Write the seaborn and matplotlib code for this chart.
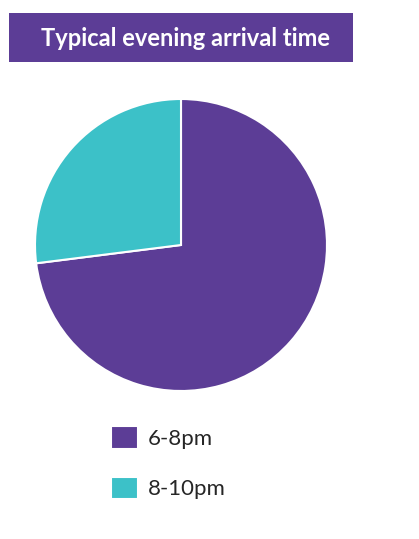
import matplotlib
matplotlib.use('Agg')
import matplotlib.pyplot as plt
from matplotlib.patches import Rectangle
import seaborn as sns

# Datos del gráfico
categorias = ['6-8pm', '8-10pm']
porcentajes = [73, 27]
colores = ['#5C3D96', '#3CC1C8']
titulo = 'Typical evening arrival time'

sns.set_theme(style='white')
plt.rcParams['font.family'] = ['Lato', 'DejaVu Sans']

W, H = 419, 539
fig = plt.figure(figsize=(W / 100, H / 100), dpi=100)

# Caja del título
fig.patches.append(Rectangle((9 / W, 1 - 62 / H), 344 / W, 49 / H,
                             transform=fig.transFigure, facecolor=colores[0],
                             edgecolor='none', zorder=0))
fig.text(185 / W, 1 - 38 / H, titulo, color='white', fontsize=17,
         fontweight='bold', ha='center', va='center')

# Gráfico de tarta
ax = fig.add_axes([35 / W, 1 - 391 / H, 292 / W, 292 / H])
wedges, _ = ax.pie(porcentajes, colors=colores, startangle=90, counterclock=False,
                   radius=1, wedgeprops=dict(edgecolor='white', linewidth=1.5))
ax.set_xlim(-1.0, 1.0)
ax.set_ylim(-1.0, 1.0)
ax.set_aspect('auto')
ax.axis('off')

# Leyenda
fig.legend(wedges, categorias, loc='upper left',
           bbox_to_anchor=(102 / W, 1 - 417 / H), frameon=False,
           fontsize=16, handlelength=1.2, handleheight=1.2,
           handletextpad=0.45, labelspacing=1.25, borderaxespad=0)

fig.savefig('out.png', dpi=100, facecolor='white')
